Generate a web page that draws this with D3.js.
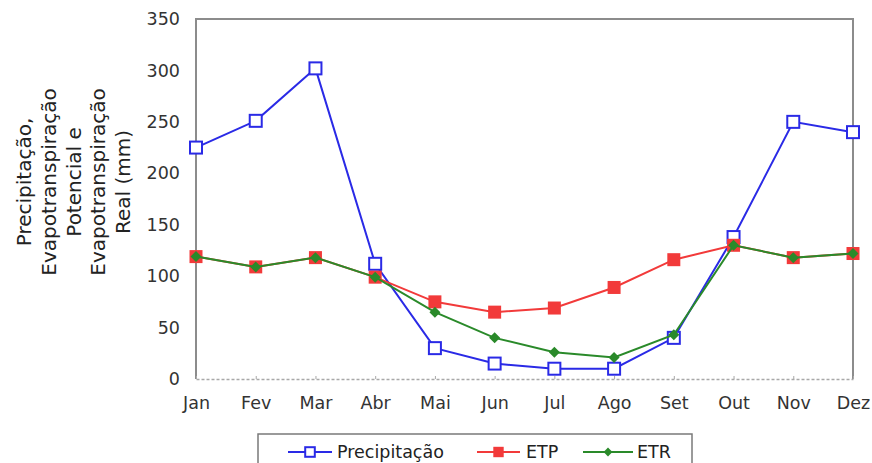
<!DOCTYPE html>
<html>
<head>
<meta charset="utf-8">
<script src="https://cdn.jsdelivr.net/npm/d3@7"></script>
<style>
  html, body { margin: 0; padding: 0; background: #fff; }
  svg { display: block; }
  text { font-family: "DejaVu Sans", Verdana, sans-serif; }
</style>
</head>
<body>
<svg id="chart" width="872" height="463"></svg>
<script>
// Monthly water balance (mm)
const months = ["Jan", "Fev", "Mar", "Abr", "Mai", "Jun", "Jul", "Ago", "Set", "Out", "Nov", "Dez"];
const precipitacao = [225, 251, 302, 112, 30, 15, 10, 10, 40, 138, 250, 240];
const etp = [119, 109, 118, 99, 75, 65, 69, 89, 116, 130, 118, 122];
const etr = [119, 109, 118, 99, 65, 40, 26, 21, 43, 130, 118, 122];
const yTicks = [0, 50, 100, 150, 200, 250, 300, 350];
const titleLines = ["Precipitação,", "Evapotranspiração", "Potencial e", "Evapotranspiração", "Real (mm)"];
const legendNames = ["Precipitação", "ETP", "ETR"];

const svg = d3.select("#chart");
const plotLeft = 196, plotRight = 853, plotTop = 19, plotBottom = 379;

const x = d3.scalePoint().domain(months).range([plotLeft, plotRight]);
const y = d3.scaleLinear().domain([0, 350]).range([plotBottom, plotTop]);

const axisColor = "#8c8c8c";
const textColor = "#333";

// Frame: solid on left, top and right
svg.append("path")
  .attr("d", `M${plotLeft},${plotBottom}V${plotTop}H${plotRight}V${plotBottom}`)
  .attr("fill", "none").attr("stroke", axisColor).attr("stroke-width", 2);

// Dashed baseline with month ticks
const xAxis = svg.append("g")
  .attr("transform", `translate(0,${plotBottom})`)
  .call(d3.axisBottom(x).tickSize(0).tickPadding(18));
xAxis.select(".domain")
  .attr("stroke", "#a8a8a8").attr("stroke-width", 1.5).attr("stroke-dasharray", "3,2");
xAxis.selectAll(".tick").append("line")
  .attr("y1", 0).attr("y2", -3).attr("stroke", "#a8a8a8");
xAxis.selectAll(".tick text")
  .attr("fill", textColor).attr("font-size", 17.5).attr("dy", "0.71em");

// Y axis labels
const yAxis = svg.append("g")
  .attr("transform", `translate(${plotLeft},0)`)
  .call(d3.axisLeft(y).tickValues(yTicks).tickSize(0).tickPadding(16));
yAxis.select(".domain").remove();
yAxis.selectAll(".tick text").attr("fill", textColor).attr("font-size", 17.5);

// Multi-line rotated axis title
const title = svg.append("text")
  .attr("transform", "translate(24,182) rotate(-90)")
  .attr("text-anchor", "middle")
  .attr("font-size", 20).attr("fill", "#222");
titleLines.forEach((t, i) => {
  title.append("tspan").attr("x", 0).attr("y", i * 24.75).attr("dy", "0.35em").text(t);
});

const line = d3.line().x((d, i) => x(months[i])).y(d => y(d));

const series = [
  { name: legendNames[0], values: precipitacao, color: "#2a2ae6", marker: "open" },
  { name: legendNames[1], values: etp, color: "#f23a3a", marker: "square" },
  { name: legendNames[2], values: etr, color: "#2a8a2a", marker: "diamond" }
];

function drawMarker(g, type, color, cx, cy, scale) {
  const s = scale || 1;
  if (type === "open") {
    const w = 12 * s;
    g.append("rect").attr("x", cx - w / 2).attr("y", cy - w / 2).attr("width", w).attr("height", w)
      .attr("fill", "#fff").attr("stroke", color).attr("stroke-width", 2);
  } else if (type === "square") {
    const w = 13 * s;
    g.append("rect").attr("x", cx - w / 2).attr("y", cy - w / 2).attr("width", w).attr("height", w)
      .attr("fill", color);
  } else {
    const r = 5.5 * s;
    g.append("path").attr("d", `M${cx},${cy - r}L${cx + r},${cy}L${cx},${cy + r}L${cx - r},${cy}Z`)
      .attr("fill", color);
  }
}

// Draw lines: precipitation first, then ETP, then ETR on top
series.forEach(s => {
  const g = svg.append("g");
  g.append("path").datum(s.values).attr("d", line)
    .attr("fill", "none").attr("stroke", s.color).attr("stroke-width", 2);
  s.values.forEach((v, i) => drawMarker(g, s.marker, s.color, x(months[i]), y(v)));
});

// Legend
const lg = svg.append("g");
lg.append("rect").attr("x", 258).attr("y", 434).attr("width", 434).attr("height", 40)
  .attr("fill", "#fff").attr("stroke", "#7a7a7a").attr("stroke-width", 1.5);
const legendPos = [
  { x1: 288, x2: 332, tx: 337 },
  { x1: 477, x2: 520, tx: 526 },
  { x1: 583, x2: 633, tx: 637 }
];
const ly = 452;
series.forEach((s, i) => {
  const p = legendPos[i];
  lg.append("line").attr("x1", p.x1).attr("x2", p.x2).attr("y1", ly).attr("y2", ly)
    .attr("stroke", s.color).attr("stroke-width", 2);
  drawMarker(lg, s.marker, s.color, (p.x1 + p.x2) / 2, ly, 0.8);
  lg.append("text").attr("x", p.tx).attr("y", ly).attr("dy", "0.35em")
    .attr("font-size", 17.5).attr("fill", "#222").text(s.name);
});
</script>
</body>
</html>
